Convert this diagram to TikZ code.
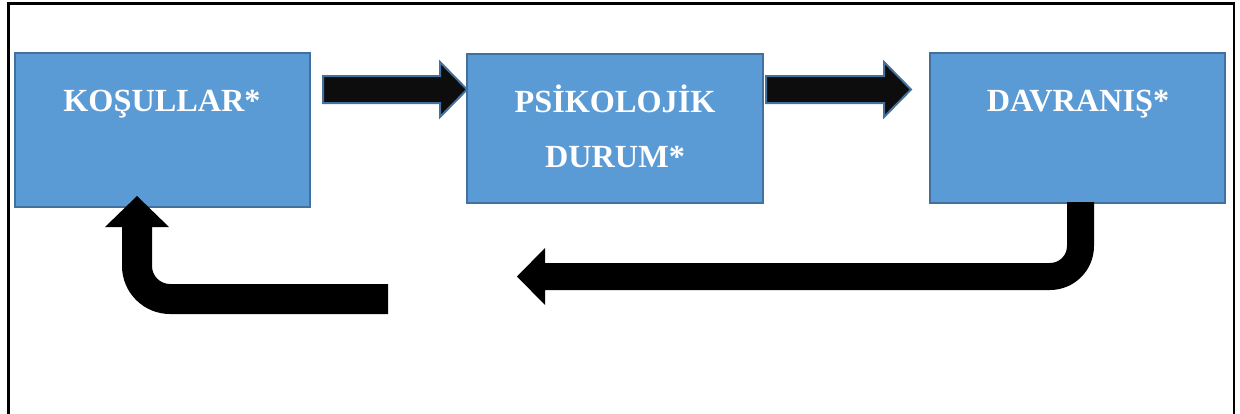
\documentclass[tikz,border=0pt]{standalone}
\usepackage{fontspec}
\setmainfont{Liberation Serif}
\definecolor{boxfill}{HTML}{5B9BD5}
\definecolor{boxline}{HTML}{41719C}
\definecolor{arrowfill}{HTML}{0D0D0D}
\tikzset{
  stagebox/.style={draw=boxline, line width=1.6pt, fill=boxfill, inner sep=0pt, outer sep=0pt},
  stagetext/.style={text=white, font=\fontsize{24.2}{30}\selectfont\bfseries, inner sep=0pt, anchor=base},
  blockarrow/.style={fill=arrowfill, draw=boxline, line width=1.5pt, line join=miter},
  bentarrow/.style={fill=black, draw=none},
  framestyle/.style={draw=black, line width=2pt}
}
\begin{document}
\begin{tikzpicture}[x=0.75pt, y=-0.75pt]
\useasboundingbox (0,0) rectangle (1240,414);
\draw[framestyle] (8.5,420) -- (8.5,3.5) -- (1234,3.5) -- (1234,420);

\node[stagebox, minimum width=221.25pt, minimum height=115.5pt] (box1) at (162.5,130) {};
\node[stagebox, minimum width=222pt, minimum height=111.75pt] (box2) at (615,128.5) {};
\node[stagebox, minimum width=221.25pt, minimum height=112.5pt] (box3) at (1077.5,128) {};

\node[stagetext] (t1) at (162,111.5) {KOŞULLAR*};
\node[stagetext] (t2a) at (615,112) {PSİKOLOJİK};
\node[stagetext] (t2b) at (615,167) {DURUM*};
\node[stagetext] (t3) at (1078,111.5) {DAVRANIŞ*};

% straight block arrows
\draw[blockarrow] (323,76) -- (440,76) -- (440,62) -- (467,89.5) -- (440,117) -- (440,103) -- (323,103) -- cycle;
\draw[blockarrow] (766,76) -- (884,76) -- (884,62) -- (911,89.5) -- (884,117) -- (884,103) -- (766,103) -- cycle;

% bent arrow from DAVRANIS back to the left
\fill[bentarrow] (1067,202) -- (1094,202) -- (1094,246)
  .. controls (1094,270.3) and (1074.3,290) .. (1050,290)
  -- (545,290) -- (545,305) -- (517,276.5) -- (545,248) -- (545,263) -- (1050,263)
  .. controls (1059.4,263) and (1067,255.4) .. (1067,246) -- cycle;

% bent arrow up into KOSULLAR
\fill[bentarrow] (388,284) -- (170,284)
  .. controls (160.06,284) and (152,275.94) .. (152,266)
  -- (152,227) -- (169,227) -- (137,196) -- (105,227) -- (122,227) -- (122,266)
  .. controls (122,292.5) and (143.5,314) .. (170,314)
  -- (388,314) -- cycle;
\end{tikzpicture}
\end{document}
